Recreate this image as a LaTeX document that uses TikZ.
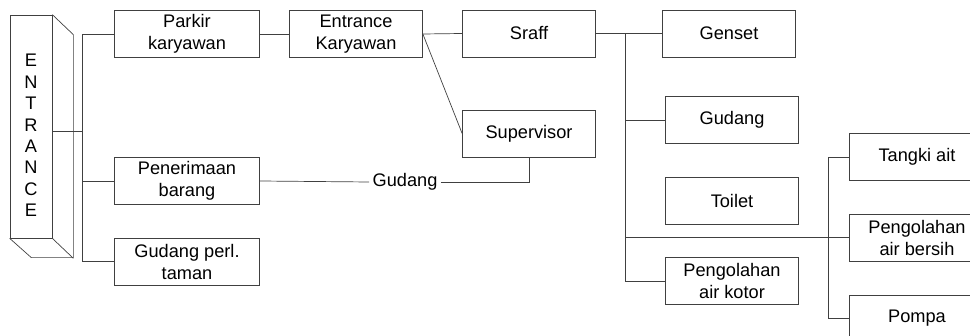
\documentclass[tikz,border=0pt]{standalone}
\usepackage{fontspec}
\setmainfont{Liberation Sans}
\usetikzlibrary{calc}

\begin{document}
\begin{tikzpicture}[x=1pt,y=-1pt,font=\fontsize{18.2}{22}\selectfont]
	\tikzstyle{box} = [draw = black!75, line width=0.7pt, minimum width=133, minimum height=47, align=center, inner sep=1pt]
	\tikzstyle{wide} = [box, minimum width=145]
\tikzstyle{line} = [draw = black!75, line width=0.7pt]
	\useasboundingbox (0,0) rectangle (970,336);
	\clip (0,0) rectangle (970,336);
	% entrance block
	\node(ent)[line, minimum width=42, minimum height=223, inner sep=0pt] at (31,126.5) {};
	\node(enttxt)[align=center, inner sep=0pt] at ($(ent)+(0,9)$)
		{E\\[-0.6pt]N\\[-0.6pt]T\\[-0.6pt]R\\[-0.6pt]A\\[-0.6pt]N\\[-0.6pt]C\\[-0.6pt]E};
	\draw[line](ent.north east) -- ++(21,20) -- ++(0,223) -- ++(-42,0) -- (ent.south west);
	\draw[line](ent.south east) -- ++(21,20);
	% left column
	\node(parkir)[wide] at (187,34) {Parkir\\karyawan};
	\node(pener)[wide] at (187,181) {Penerimaan\\barang};
	\node(gudperl)[wide] at (187,261.5) {Gudang perl.\\taman};
	\node(entk)[box] at (356,34) {Entrance\\Karyawan};
	\node(sraff)[box] at (529,33.5) {Sraff};
	\node(sup)[box] at (529,133.5) {Supervisor};
	\node(gudtxt) at (405,182) {Gudang};
	% right column
	\node(genset)[box] at (729,33.5) {Genset};
	\node(gudang)[box] at (732,120) {Gudang};
	\node(toilet)[box] at (732,201) {Toilet};
	\node(pakot)[box] at (732,281) {Pengolahan\\air kotor};
	\node(tangki)[box, minimum width=136] at (917,157) {Tangki ait};
	\node(pabersih)[box, minimum width=136] at (917,237.5) {Pengolahan\\air bersih};
	\node(pompa)[box, minimum width=136] at (917,318.5) {Pompa};
	\coordinate(rt) at (625,33.5);
	% connectors
	\draw[line](ent.east) ++(0,4.5) -- ++(31,0);
	\draw[line](parkir.west) -- ++(-32,0) |- (gudperl.west);
	\draw[line](pener.west) -- ++(-32,0);
	\draw[line](parkir) -- (entk);
	\draw[line](entk.east) -- (sraff.west);
	\draw[line](entk.east) -- (sup.west);
	\draw[line](pener.east) -- (gudtxt.west);
	\draw[line](gudtxt.east) -| (sup.south);
	\draw[line](sraff.east) -- (genset.west);
	\draw[line](rt) |- (pakot.west);
	\draw[line](rt |- gudang.west) -- (gudang.west);
	\draw[line](rt |- pabersih.west) -- (pabersih.west);
	\draw[line](tangki.west) -- ++(-20,0) |- (pompa.west);
\end{tikzpicture}
\end{document}
